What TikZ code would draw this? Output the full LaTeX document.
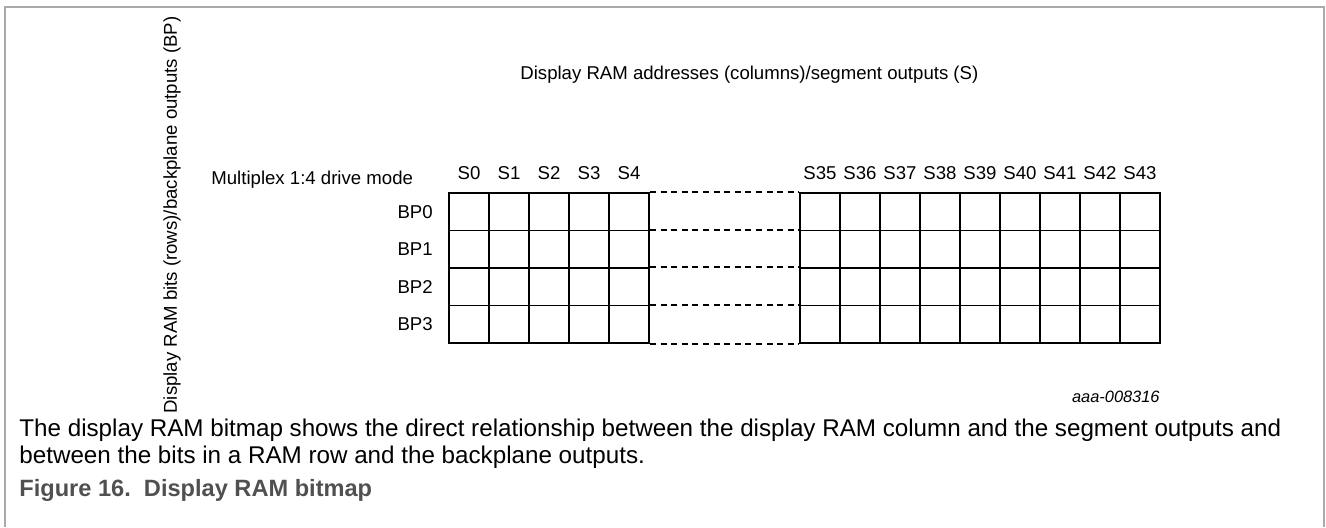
\documentclass[tikz,border=0pt]{standalone}
\usepackage{fontspec}
\setmainfont{Liberation Sans}
\usepackage{xcolor}
\usetikzlibrary{positioning}
\definecolor{framegray}{RGB}{170,170,170}
\definecolor{titlegray}{RGB}{80,80,80}

\begin{document}
\begin{tikzpicture}[x=0.5pt,y=0.5pt]
\tikzset{every node/.style={inner sep=0pt},
  cell/.style={draw=black,line width=0.9pt,minimum width=20pt,minimum height=18.75pt},
  gap/.style={line width=0.9pt,dash pattern=on 3pt off 2.3pt},
  lbl/.style={font=\fontsize{9.3}{11}\selectfont},
  capt/.style={anchor=west,font=\fontsize{12.1}{14}\selectfont}}
\useasboundingbox (0,0) rectangle (1326,-527);
\draw [framegray,line width=0.7pt] (5,-527) -- (5,-7) -- (1324,-7) -- (1324,-527);
% left part of the bitmap, S0 to S4
\foreach \r in {0,...,3}
  \foreach \c in {0,...,4}
    \node [cell] (l-\r-\c) at (469+40*\c,-211.75-37.5*\r) {};
% right part of the bitmap, S35 to S43
\foreach \r in {0,...,3}
  \foreach \c in {0,...,8}
    \node [cell] (r-\r-\c) at (820+40*\c,-211.75-37.5*\r) {};
\foreach \c in {0,...,4}
  \node [lbl,above=6pt of l-0-\c] (s\c) {S\c};
\foreach \c [evaluate=\c as \n using int(35+\c)] in {0,...,8}
  \node [lbl,above=6pt of r-0-\c] (s\n) {S\n};
\foreach \r in {0,...,3}
  \node [lbl,left=7.5pt of l-\r-0] (bp\r) {BP\r};
% gap between S4 and S35
\foreach \r in {0,...,3}
  \draw [gap] (l-\r-4.north east) -- (r-\r-0.north west);
\draw [gap] (l-3-4.south east) -- (r-3-0.south west);
\node [lbl,anchor=west] (mode) at (211,-180) {Multiplex 1:4 drive mode};
\node [lbl,anchor=west] (cols) at (520,-75) {Display RAM addresses (columns)/segment outputs (S)};
\node [lbl,rotate=90] (rows) at (172,-215) {Display RAM bits (rows)/backplane outputs (BP)};
\node [anchor=east,font=\fontsize{8.2}{10}\selectfont\itshape] (code) at (1160,-397) {aaa-008316};
\node [capt] (note1) at (19,-430) {The display RAM bitmap shows the direct relationship between the display RAM column and the segment outputs and};
\node [capt] (note2) at (19,-457) {between the bits in a RAM row and the backplane outputs.};
\node [anchor=west,text=titlegray,font=\fontsize{11.8}{14}\selectfont\bfseries] (fig) at (19,-490) {Figure 16.\ \ Display RAM bitmap};
\end{tikzpicture}
\end{document}
